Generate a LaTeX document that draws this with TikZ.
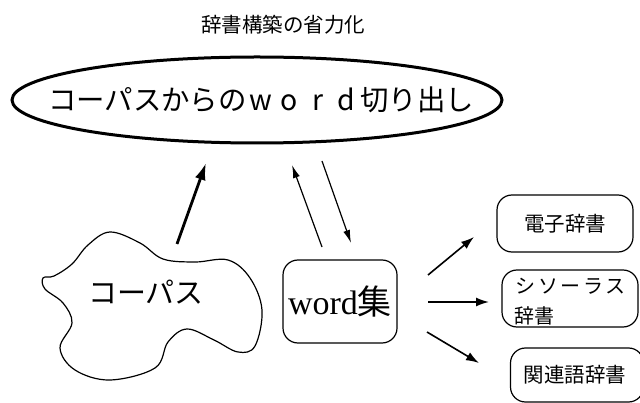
\documentclass[tikz,border=0pt]{standalone}
\usepackage{fontspec}
\setmainfont{Liberation Serif}
\newfontfamily\jp{Noto Sans CJK JP}
\usetikzlibrary{shapes.geometric,arrows.meta}
\tikzset{
  box/.style={draw,line width=1.2pt,rounded corners=15pt,inner sep=0pt},
  thinarrow/.style={line width=1.2pt,-{Latex[length=13pt,width=7pt]}},
  thickarrow/.style={line width=2.8pt,-{Latex[length=17pt,width=11pt]}},
  sidearrow/.style={line width=1.6pt,-{Latex[length=13pt,width=9pt]}},
}
\newcommand{\fwch}[1]{\makebox[1em]{\fontsize{28.4}{28.4}\selectfont #1}}
\newcommand{\spch}[1]{\makebox[22.6pt]{#1}}
\begin{document}
\begin{tikzpicture}[x=1pt,y=-1pt]
\useasboundingbox (0,0) rectangle (640,403);
% title
\node (title) at (283,25) {\jp\fontsize{20.5}{20.5}\selectfont 辞書構築の省力化};
% ellipse
\node (extract) [ellipse,draw,line width=3pt,minimum width=490pt,minimum height=86pt,inner sep=0pt] at (257,100) {};
\node (extracttext) at (261,100)
  {\jp\fontsize{28.4}{28.4}\selectfont コーパスからの\fwch{w}\fwch{o}\fwch{r}\fwch{d}切り出し};
% corpus blob
\draw[line width=1.2pt] plot[smooth cycle,tension=0.6] coordinates {
  (110,232) (140,243) (163,259) (195,262) (228,260) (250,278) (262,310)
  (255,346) (238,352) (214,340) (187,329) (168,342) (155,368) (110,380)
  (75,370) (60,348) (72,323) (63,303) (45,289) (43,278) (54,276) (72,264) (88,245)};
\node (corpus) at (146,292) {\jp\fontsize{29}{29}\selectfont コーパス};
% word set
\node (wordset) [box,minimum width=114pt,minimum height=83pt] at (340,301.5)
  {\fontsize{34}{34}\selectfont word{\jp 集}};
% dictionaries
\node (dictA) [box,minimum width=136pt,minimum height=57pt] at (565,223.5)
  {\jp\fontsize{20.5}{20.5}\selectfont 電子辞書};
\node (dictB) [box,minimum width=136pt,minimum height=57pt] at (570,298.5) {};
\node (dictBtext) [anchor=north west,inner sep=0pt,align=left,font=\jp\fontsize{20}{30}\selectfont] at (514,278)
  {\spch{シ}\spch{ソ}\spch{ー}\spch{ラ}\spch{ス}\\辞書};
\node (dictC) [box,minimum width=133pt,minimum height=54pt] at (577,375)
  {\jp\fontsize{20.5}{20.5}\selectfont \hspace*{-4pt}関連語辞書};
% arrow endpoints
\coordinate (c1) at (177,244);
\coordinate (e1) at (206,163);
\coordinate (w1) at (322,247);
\coordinate (e2) at (292,165);
\coordinate (e3) at (322,161);
\coordinate (w3) at (351,243);
\coordinate (s1) at (428,275);
\coordinate (a1) at (474,237);
\coordinate (s2) at (428,302);
\coordinate (b1) at (489,302);
\coordinate (s3) at (427,332);
\coordinate (d1) at (479,363);
\draw[thickarrow] (c1) -- (e1);
\draw[thinarrow] (w1) -- (e2);
\draw[thinarrow] (e3) -- (w3);
\draw[sidearrow] (s1) -- (a1);
\draw[sidearrow] (s2) -- (b1);
\draw[sidearrow] (s3) -- (d1);
\end{tikzpicture}
\end{document}
